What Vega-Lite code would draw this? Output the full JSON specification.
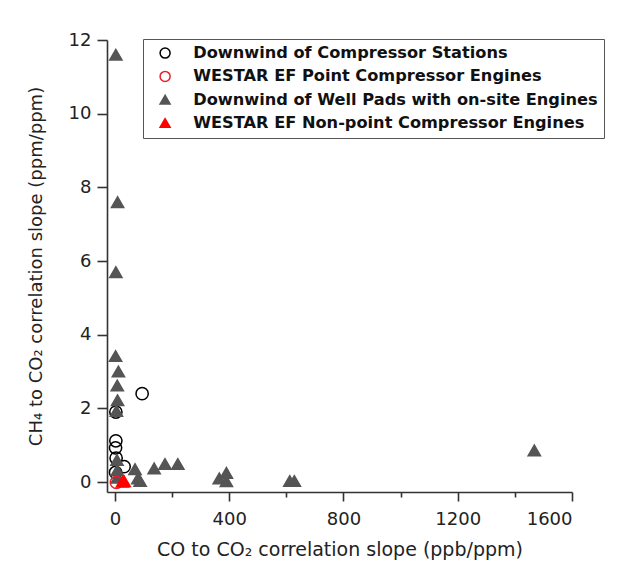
{
  "$schema": "https://vega.github.io/schema/vega-lite/v6.json",
  "width": 465,
  "height": 452,
  "autosize": "none",
  "padding": {"left": 107, "top": 40, "right": 49, "bottom": 81},
  "background": "white",
  "config": {
    "view": {"stroke": null},
    "axis": {
      "grid": false,
      "domainColor": "#333333",
      "tickColor": "#333333",
      "labelFont": "DejaVu Sans",
      "titleFont": "DejaVu Sans",
      "labelColor": "#222222",
      "titleColor": "#222222",
      "titleFontWeight": "normal",
      "domainWidth": 1.6,
      "tickWidth": 1.6
    },
    "legend": {
      "orient": "none",
      "legendX": 36,
      "legendY": -1,
      "strokeColor": "#555555",
      "padding": 6,
      "labelFont": "DejaVu Sans",
      "labelFontWeight": "bold",
      "labelFontSize": 16.2,
      "labelColor": "#111111",
      "labelLimit": 600,
      "rowPadding": 6.3,
      "symbolSize": 100,
      "symbolStrokeWidth": 1.5,
      "symbolOffset": 8,
      "labelOffset": 20
    }
  },
  "data": {
    "values": [
      {"series": "Downwind of Compressor Stations", "co": 95, "ch4": 2.4},
      {"series": "Downwind of Compressor Stations", "co": 3, "ch4": 1.9},
      {"series": "Downwind of Compressor Stations", "co": 3, "ch4": 1.12},
      {"series": "Downwind of Compressor Stations", "co": 2, "ch4": 0.93},
      {"series": "Downwind of Compressor Stations", "co": 4, "ch4": 0.65},
      {"series": "Downwind of Compressor Stations", "co": 32, "ch4": 0.42},
      {"series": "Downwind of Compressor Stations", "co": 2, "ch4": 0.26},
      {"series": "Downwind of Well Pads with on-site Engines", "co": 3, "ch4": 11.6},
      {"series": "Downwind of Well Pads with on-site Engines", "co": 9, "ch4": 7.6},
      {"series": "Downwind of Well Pads with on-site Engines", "co": 3, "ch4": 5.7},
      {"series": "Downwind of Well Pads with on-site Engines", "co": 2, "ch4": 3.42},
      {"series": "Downwind of Well Pads with on-site Engines", "co": 12, "ch4": 3.0},
      {"series": "Downwind of Well Pads with on-site Engines", "co": 8, "ch4": 2.62},
      {"series": "Downwind of Well Pads with on-site Engines", "co": 9, "ch4": 2.22},
      {"series": "Downwind of Well Pads with on-site Engines", "co": 5, "ch4": 1.93},
      {"series": "Downwind of Well Pads with on-site Engines", "co": 7, "ch4": 0.6},
      {"series": "Downwind of Well Pads with on-site Engines", "co": 8, "ch4": 0.32},
      {"series": "Downwind of Well Pads with on-site Engines", "co": 8, "ch4": 0.12},
      {"series": "Downwind of Well Pads with on-site Engines", "co": 70, "ch4": 0.35},
      {"series": "Downwind of Well Pads with on-site Engines", "co": 80, "ch4": 0.1},
      {"series": "Downwind of Well Pads with on-site Engines", "co": 88, "ch4": 0.03},
      {"series": "Downwind of Well Pads with on-site Engines", "co": 137, "ch4": 0.37},
      {"series": "Downwind of Well Pads with on-site Engines", "co": 175, "ch4": 0.49},
      {"series": "Downwind of Well Pads with on-site Engines", "co": 220, "ch4": 0.49},
      {"series": "Downwind of Well Pads with on-site Engines", "co": 365, "ch4": 0.1},
      {"series": "Downwind of Well Pads with on-site Engines", "co": 390, "ch4": 0.25},
      {"series": "Downwind of Well Pads with on-site Engines", "co": 390, "ch4": 0.02},
      {"series": "Downwind of Well Pads with on-site Engines", "co": 612, "ch4": 0.03},
      {"series": "Downwind of Well Pads with on-site Engines", "co": 628, "ch4": 0.03},
      {"series": "Downwind of Well Pads with on-site Engines", "co": 1468, "ch4": 0.86},
      {"series": "WESTAR EF Point Compressor Engines", "co": 5, "ch4": -0.01},
      {"series": "WESTAR EF Non-point Compressor Engines", "co": 26, "ch4": 0.01},
      {"series": "WESTAR EF Non-point Compressor Engines", "co": 32, "ch4": 0.02}
    ]
  },
  "resolve": {"axis": {"x": "independent"}},
  "layer": [
    {
      "mark": {"type": "point", "opacity": 0},
      "encoding": {
        "x": {
          "field": "co",
          "type": "quantitative",
          "scale": {"domain": [-28, 1600], "nice": false, "zero": false},
          "axis": {"orient": "bottom", "values": [200, 600, 1000, 1400], "labels": false, "tickSize": 5, "title": null, "domain": false}
        }
      }
    },
    {
      "mark": {"type": "point", "strokeWidth": 1.5, "opacity": 1, "size": 150},
      "encoding": {
        "x": {
          "field": "co",
          "type": "quantitative",
          "scale": {"domain": [-28, 1600], "nice": false, "zero": false},
          "axis": {
            "orient": "bottom",
            "values": [0, 400, 800, 1200, 1600],
            "format": "d",
            "title": "CO to CO₂ correlation slope (ppb/ppm)",
            "labelFontSize": 18,
            "titleFontSize": 19,
            "tickSize": 9,
            "labelPadding": 9,
            "titlePadding": 12
          }
        },
        "y": {
          "field": "ch4",
          "type": "quantitative",
          "scale": {"domain": [-0.27, 12], "nice": false, "zero": false},
          "axis": {
            "values": [0, 2, 4, 6, 8, 10, 12],
            "format": "d",
            "title": "CH₄ to CO₂ correlation slope (ppm/ppm)",
            "labelFontSize": 18,
            "titleFontSize": 18,
            "tickSize": 10,
            "labelPadding": 6,
            "titlePadding": 23
          }
        },
        "shape": {
          "field": "series",
          "type": "nominal",
          "scale": {
            "domain": ["Downwind of Compressor Stations", "WESTAR EF Point Compressor Engines", "Downwind of Well Pads with on-site Engines", "WESTAR EF Non-point Compressor Engines"],
            "range": ["circle", "circle", "triangle-up", "triangle-up"]
          },
          "legend": {"title": null}
        },
        "fill": {
          "field": "series",
          "type": "nominal",
          "scale": {
            "domain": ["Downwind of Compressor Stations", "WESTAR EF Point Compressor Engines", "Downwind of Well Pads with on-site Engines", "WESTAR EF Non-point Compressor Engines"],
            "range": ["transparent", "transparent", "#555555", "#ff0000"]
          },
          "legend": {"title": null}
        },
        "stroke": {
          "field": "series",
          "type": "nominal",
          "scale": {
            "domain": ["Downwind of Compressor Stations", "WESTAR EF Point Compressor Engines", "Downwind of Well Pads with on-site Engines", "WESTAR EF Non-point Compressor Engines"],
            "range": ["#000000", "#e8202a", "#555555", "#ff0000"]
          },
          "legend": {"title": null}
        }
      }
    }
  ]
}
